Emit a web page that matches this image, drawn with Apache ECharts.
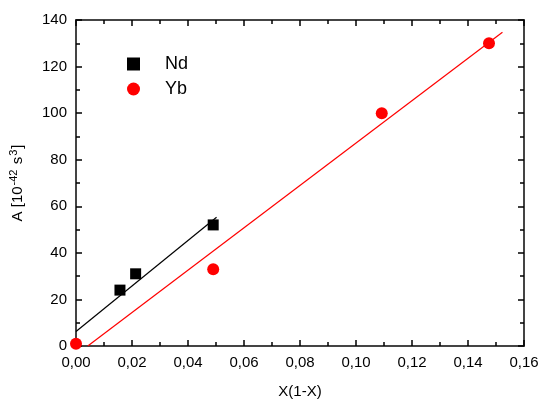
<!DOCTYPE html>
<html><head><meta charset="utf-8">
<script src="https://cdn.jsdelivr.net/npm/echarts@6/dist/echarts.min.js"></script>
<style>html,body{margin:0;padding:0;background:#fff}#c{width:539px;height:401px}</style>
</head><body><div id="c"></div>
<script>
var ndX = [0.0157, 0.0213, 0.0490];
var ndY = [24, 31, 52];
var ybX = [0.0, 0.0490, 0.1092, 0.1475];
var ybY = [1, 33, 100, 130];
var ndFitX = [0.0, 0.0502];
var ndFitY = [6.2, 55.3];
var ybFitX = [0.0042, 0.1523];
var ybFitY = [0, 134.7];
var xTicks = [0, 0.02, 0.04, 0.06, 0.08, 0.10, 0.12, 0.14, 0.16];
var yTicks = [0, 20, 40, 60, 80, 100, 120, 140];

function pairs(a, b) { return a.map(function (v, i) { return [v, b[i]]; }); }
var font = 'Liberation Sans, Arial, sans-serif';
var axisLine = { show: true, onZero: false, lineStyle: { color: '#444', width: 2 } };
function xAx(pos, labels) {
  return {
    type: 'value', position: pos, min: xTicks[0], max: xTicks[xTicks.length - 1], interval: 0.02,
    axisLine: axisLine,
    axisTick: { inside: true, length: 6, lineStyle: { color: '#000', width: 1.5 } },
    minorTick: { show: true, splitNumber: 2, length: 4, lineStyle: { color: '#000', width: 1.5 } },
    splitLine: { show: false },
    axisLabel: { show: labels, color: '#000', fontSize: 15, fontFamily: font, margin: 9,
      formatter: function (v) { return v.toFixed(2).replace('.', ','); } },
    name: labels ? 'X(1-X)' : '', nameLocation: 'middle', nameGap: 38,
    nameTextStyle: { color: '#000', fontSize: 15, fontFamily: font }
  };
}
function yAx(pos, labels) {
  return {
    type: 'value', position: pos, min: yTicks[0], max: yTicks[yTicks.length - 1], interval: 20,
    axisLine: axisLine,
    axisTick: { inside: true, length: 6, lineStyle: { color: '#000', width: 1.5 } },
    minorTick: { show: true, splitNumber: 2, length: 4, lineStyle: { color: '#000', width: 1.5 } },
    splitLine: { show: false },
    axisLabel: { show: labels, color: '#000', fontSize: 15, fontFamily: font, margin: 9 },
    name: labels ? '{n|A [10}{s|-42}{n| s}{s|3}{n|]}' : '', nameLocation: 'middle', nameGap: 49, nameRotate: 90,
    nameTextStyle: { color: '#000', fontSize: 15, fontFamily: font,
      rich: { n: { fontSize: 15, fontFamily: font, color: '#000' },
              s: { fontSize: 11, fontFamily: font, color: '#000', verticalAlign: 'top', padding: [0, 1, 8, 1] } } }
  };
}
var chart = echarts.init(document.getElementById('c'));
chart.setOption({
  animation: false,
  grid: { left: 76, right: 15, top: 20, bottom: 55, containLabel: false, outerBoundsMode: 'none' },
  legend: {
    data: [{ name: 'Nd', icon: 'rect', itemStyle: { color: '#000' } }, { name: 'Yb', icon: 'circle' }],
    orient: 'vertical', left: 122, top: 50, itemGap: 7,
    itemWidth: 13, itemHeight: 13,
    textStyle: { color: '#000', fontSize: 18, fontFamily: font, padding: [0, 0, 0, 20] }
  },
  xAxis: [xAx('bottom', true), xAx('top', false)],
  yAxis: [yAx('left', true), yAx('right', false)],
  series: [
    { name: 'NdFit', type: 'line', data: pairs(ndFitX, ndFitY), showSymbol: false, silent: true,
      lineStyle: { color: '#000', width: 1.2 }, z: 1 },
    { name: 'YbFit', type: 'line', data: pairs(ybFitX, ybFitY), showSymbol: false, silent: true,
      lineStyle: { color: '#ff0000', width: 1.2 }, z: 1 },
    { name: 'Nd', type: 'scatter', data: pairs(ndX, ndY), symbol: 'rect', symbolSize: 11,
      itemStyle: { color: '#000', opacity: 1 }, z: 3 },
    { name: 'Yb', type: 'scatter', data: pairs(ybX, ybY), symbol: 'circle', symbolSize: 12,
      itemStyle: { color: '#ff0000', opacity: 1 }, z: 3, clip: false }
  ]
});
</script></body></html>
